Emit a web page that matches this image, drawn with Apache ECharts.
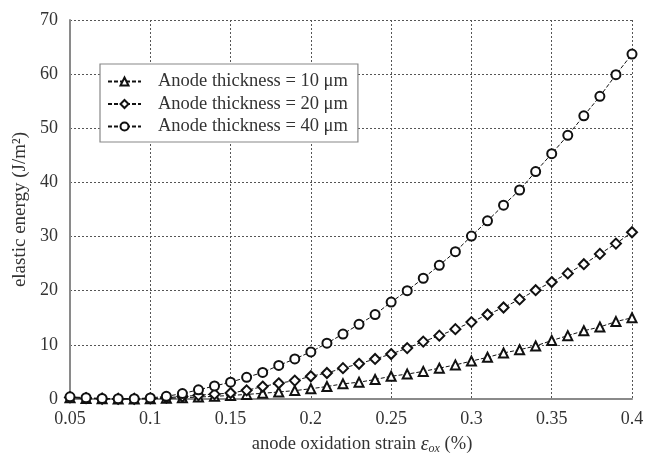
<!DOCTYPE html>
<html>
<head>
<meta charset="utf-8">
<script src="https://cdn.jsdelivr.net/npm/echarts@6/dist/echarts.min.js"></script>
<style>
  html, body { margin: 0; padding: 0; background: #fff; }
  #chart { width: 660px; height: 460px; }
</style>
</head>
<body>
<div id="chart"></div>
<script>
// Oxidation strain (%) sampled every 0.01
const strain = [0.05, 0.06, 0.07, 0.08, 0.09, 0.10, 0.11, 0.12, 0.13, 0.14,
                0.15, 0.16, 0.17, 0.18, 0.19, 0.20, 0.21, 0.22, 0.23, 0.24,
                0.25, 0.26, 0.27, 0.28, 0.29, 0.30, 0.31, 0.32, 0.33, 0.34,
                0.35, 0.36, 0.37, 0.38, 0.39, 0.40];

// Elastic energy (J/m^2) for each anode thickness
const energy10um = [0.25, 0.1, 0.03, 0.0, 0.0, 0.05, 0.12, 0.22, 0.35, 0.5,
                    0.65, 0.85, 1.05, 1.3, 1.55, 1.9, 2.3, 2.8, 3.1, 3.6,
                    4.2, 4.6, 5.1, 5.7, 6.3, 7.0, 7.7, 8.5, 9.1, 9.8,
                    10.8, 11.7, 12.6, 13.3, 14.3, 15.0];
const energy20um = [0.3, 0.15, 0.05, 0.02, 0.02, 0.1, 0.25, 0.45, 0.7, 0.9,
                    1.1, 1.6, 2.3, 2.9, 3.4, 4.2, 4.8, 5.7, 6.5, 7.4,
                    8.3, 9.4, 10.6, 11.7, 12.9, 14.2, 15.6, 16.9, 18.4, 20.1,
                    21.6, 23.2, 24.9, 26.8, 28.7, 30.8];
const energy40um = [0.4, 0.25, 0.1, 0.05, 0.05, 0.2, 0.5, 1.0, 1.7, 2.4,
                    3.1, 4.0, 4.9, 6.2, 7.4, 8.7, 10.3, 12.0, 13.8, 15.6,
                    17.9, 20.0, 22.3, 24.7, 27.2, 30.1, 32.9, 35.8, 38.6, 42.0,
                    45.3, 48.7, 52.3, 55.9, 59.9, 63.7];

const seriesNames = ['Anode thickness = 10 \u03bcm', 'Anode thickness = 20 \u03bcm', 'Anode thickness = 40 \u03bcm'];
const seriesValues = [energy10um, energy20um, energy40um];
const seriesSymbols = ['emptyTriangle', 'emptyDiamond', 'emptyCircle'];

const FONT = '"Liberation Serif", "Times New Roman", serif';
const TEXT = '#333';

const pair = (xs, ys) => xs.map((x, i) => [x, ys[i]]);

const chart = echarts.init(document.getElementById('chart'), null, { renderer: 'canvas' });

chart.setOption({
  animation: false,
  backgroundColor: '#fff',
  textStyle: { fontFamily: FONT, color: TEXT },
  grid: { left: 70, right: 28, top: 20, bottom: 58, containLabel: false },
  legend: {
    orient: 'vertical',
    left: 100,
    top: 64,
    padding: [8, 10, 6, 7],
    itemGap: 3.5,
    itemWidth: 33,
    itemHeight: 10,
    backgroundColor: '#fff',
    borderColor: '#888',
    borderWidth: 1.2,
    textStyle: { fontFamily: FONT, fontSize: 18.5, color: TEXT, padding: [0, 0, 0, 12] },
    data: seriesNames
  },
  xAxis: {
    type: 'value',
    min: 0.05,
    max: 0.4,
    interval: 0.05,
    name: '{n|anode oxidation strain }{e|\u03b5}{s|ox}{n| (%)}',
    nameLocation: 'middle',
    nameGap: 35,
    nameTextStyle: {
      padding: [0, 0, 0, 22],
      rich: {
        n: { fontFamily: FONT, fontSize: 18.5, color: TEXT },
        e: { fontFamily: FONT, fontSize: 20, fontStyle: 'italic', color: TEXT },
        s: { fontFamily: FONT, fontSize: 12, fontStyle: 'italic', color: TEXT, verticalAlign: 'bottom', padding: [9, 0, 0, 0] }
      }
    },
    axisLine: { show: true, lineStyle: { color: '#8a8a8a', width: 2 } },
    axisTick: { show: false },
    axisLabel: {
      margin: 11,
      fontFamily: FONT, fontSize: 18, color: TEXT,
      formatter: v => String(parseFloat(v.toFixed(2)))
    },
    splitLine: { show: true, lineStyle: { color: '#555', width: 1, type: [2, 2] } }
  },
  yAxis: {
    type: 'value',
    min: 0,
    max: 70,
    interval: 10,
    name: 'elastic energy (J/m\u00b2)',
    nameLocation: 'middle',
    nameGap: 32,
    nameTextStyle: { fontFamily: FONT, fontSize: 19, color: TEXT },
    axisLine: { show: true, lineStyle: { color: '#8a8a8a', width: 2 } },
    axisTick: { show: false },
    axisLabel: { margin: 12, fontFamily: FONT, fontSize: 18, color: TEXT },
    splitLine: { show: true, lineStyle: { color: '#555', width: 1, type: [2, 2] } }
  },
  series: seriesNames.map((name, i) => ({
    name,
    type: 'line',
    data: pair(strain, seriesValues[i]),
    symbol: seriesSymbols[i],
    symbolSize: i === 1 ? 10 : 9,
    showAllSymbol: true,
    clip: false,
    lineStyle: { color: '#111', width: 1, type: [4, 2] },
    itemStyle: { color: '#111', borderColor: '#111', borderWidth: 1.3 },
    emphasis: { disabled: true }
  }))
});
</script>
</body>
</html>
